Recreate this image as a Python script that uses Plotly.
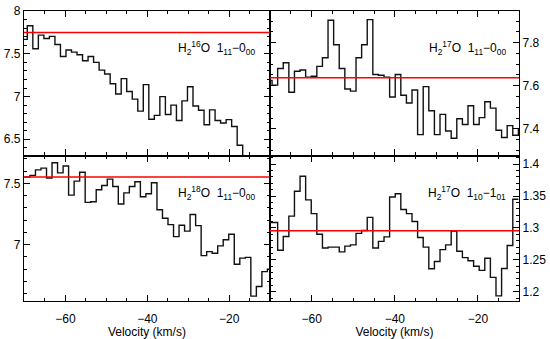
import numpy as np
import plotly.graph_objects as go

# ---------------- data ----------------
dv = 1.348  # channel width (km/s)

# H2 16O 1_11-0_00 (top left)
v0_tl = -69.29
tl_vals = [7.67, 7.83, 7.56, 7.72, 7.68, 7.705, 7.61, 7.47, 7.545, 7.52, 7.49, 7.42,
           7.47, 7.40, 7.31, 7.265, 7.15, 7.03, 7.21, 7.06, 6.97, 6.83, 7.14, 6.735,
           6.78, 7.0, 6.79, 6.90, 6.72, 6.95, 7.115, 6.89, 6.84, 6.67, 6.845, 6.72,
           6.69, 6.73, 6.65, 6.43, 6.2, 6.15, 6.22, 6.1, 6.2]
tl_cont = 7.75

# H2 17O 1_11-0_00 (top right)
v0_tr = -69.56
tr_vals = [7.625, 7.603, 7.68, 7.707, 7.57, 7.667, 7.673, 7.64, 7.644, 7.69, 7.73,
           7.904, 7.79, 7.68, 7.585, 7.575, 7.73, 7.79, 7.907, 7.652, 7.649, 7.64,
           7.548, 7.652, 7.556, 7.52, 7.58, 7.373, 7.596, 7.484, 7.373, 7.467, 7.39,
           7.356, 7.447, 7.42, 7.507, 7.42, 7.452, 7.526, 7.496, 7.393, 7.36, 7.415,
           7.37, 7.40]
tr_cont = 7.637

# H2 18O 1_11-0_00 (bottom left)
v0_bl = -68.65
bl_vals = [7.552, 7.565, 7.61, 7.624, 7.544, 7.668, 7.585, 7.642, 7.404, 7.518, 7.59,
           7.345, 7.35, 7.448, 7.482, 7.534, 7.474, 7.332, 7.422, 7.474, 7.513, 7.39,
           7.415, 7.505, 7.285, 7.215, 7.163, 7.065, 7.158, 7.11, 7.246, 7.155, 6.91,
           6.943, 6.93, 6.99, 7.04, 7.085, 6.84, 6.89, 6.896, 6.58, 6.658, 6.78, 6.80]
bl_cont = 7.552

# H2 17O 1_10-1_01 (bottom right)
v0_br = -69.56
br_vals = [1.3085, 1.3085, 1.265, 1.2865, 1.3185, 1.3575, 1.381, 1.344, 1.3225, 1.29,
           1.2685, 1.27, 1.27, 1.2625, 1.2715, 1.2735, 1.2915, 1.296, 1.3165, 1.2685,
           1.279, 1.286, 1.3485, 1.3535, 1.329, 1.3225, 1.31, 1.285, 1.27, 1.236,
           1.2475, 1.266, 1.2735, 1.295, 1.2635, 1.2535, 1.2485, 1.24, 1.2335, 1.2525,
           1.2225, 1.1935, 1.2365, 1.2725, 1.345]
br_cont = 1.2955

labels = ["H<sub>2</sub><sup>16</sup>O  1<sub>11</sub>\u22120<sub>00</sub>",
          "H<sub>2</sub><sup>17</sup>O  1<sub>11</sub>\u22120<sub>00</sub>",
          "H<sub>2</sub><sup>18</sup>O  1<sub>11</sub>\u22120<sub>00</sub>",
          "H<sub>2</sub><sup>17</sup>O  1<sub>10</sub>\u22121<sub>01</sub>"]

# --------------- figure ---------------
W, H = 550, 339
ml, mr, mt, mb = 23, 29, 4, 31
pw, ph = W - ml - mr, H - mt - mb
xsplit = (270.3 - ml) / pw
ysplit = (H - mb - 155.5) / ph

FONT = "Liberation Sans, Arial, Helvetica, sans-serif"
fig = go.Figure()

panels = [
    (v0_tl, tl_vals, tl_cont, "x", "y", [6.31, 8.002], 0.5, 0.1, "left", False),
    (v0_tr, tr_vals, tr_cont, "x2", "y2", [7.276, 7.947], 0.2, 0.05, "right", False),
    (v0_bl, bl_vals, bl_cont, "x3", "y3", [6.54, 7.727], 0.5, 0.1, "left", True),
    (v0_br, br_vals, br_cont, "x4", "y4", [1.1855, 1.4135], 0.05, 0.01, "right", True),
]

for i, (v0, vals, cont, xa, ya, yr, dt, mdt, side, showx) in enumerate(panels):
    n = len(vals)
    edges = v0 + dv * (np.arange(n + 1) - 1)
    yy = list(vals) + [vals[-1]]
    fig.add_trace(go.Scatter(x=edges, y=yy, mode="lines", line_shape="hv",
                             line=dict(color="#111111", width=1.4),
                             xaxis=xa, yaxis=ya, showlegend=False, hoverinfo="skip"))
    axn = "" if i == 0 else str(i + 1)
    fig.add_shape(type="line", xref=f"x{axn} domain", yref=ya, x0=0, x1=1,
                  y0=cont, y1=cont, line=dict(color="#ff0000", width=1.5))
    fig.add_annotation(text=labels[i], xref=f"x{axn} domain", yref=f"y{axn} domain",
                       x=0.946 if side == "left" else 0.956,
                       y=0.745, xanchor="right", yanchor="middle", showarrow=False,
                       font=dict(family=FONT, size=12, color="black"))

    xdom = [0, xsplit] if side == "left" else [xsplit, 1]
    ydom = [ysplit, 1] if i < 2 else [0, ysplit]
    xax = dict(domain=xdom, range=[-70.1, -10.1], anchor=ya,
               showline=True, linecolor="black", linewidth=1.2, mirror="allticks",
               ticks="inside", ticklen=6, tickcolor="black", tickwidth=1,
               dtick=20, tick0=0, showgrid=False, zeroline=False,
               minor=dict(dtick=5, tick0=0, ticks="inside", ticklen=3,
                          tickcolor="black", tickwidth=1, showgrid=False),
               showticklabels=showx, ticklabeloverflow="allow",
               ticklabelstandoff=6,
               tickfont=dict(family=FONT, size=12, color="black"))
    if showx:
        xax["title"] = dict(text="Velocity (km/s)", standoff=1,
                            font=dict(family=FONT, size=12, color="black"))
    yax = dict(domain=ydom, range=yr, anchor=xa, side=side,
               showline=True, linecolor="black", linewidth=1.2, mirror="allticks",
               ticks="inside", ticklen=6, tickcolor="black", tickwidth=1,
               dtick=dt, tick0=0, showgrid=False, zeroline=False,
               minor=dict(dtick=mdt, tick0=0, ticks="inside", ticklen=3,
                          tickcolor="black", tickwidth=1, showgrid=False),
               ticklabeloverflow="allow",
               tickfont=dict(family=FONT, size=12, color="black"))
    fig.layout[f"xaxis{axn}"] = xax
    fig.layout[f"yaxis{axn}"] = yax

fig.update_layout(width=W, height=H, margin=dict(l=ml, r=mr, t=mt, b=mb),
                  paper_bgcolor="white", plot_bgcolor="white",
                  font=dict(family=FONT, size=12, color="black"))

fig.write_html("out.html", config={"displayModeBar": False},
               post_script="document.body.style.margin='0px';document.body.style.padding='0px';")
